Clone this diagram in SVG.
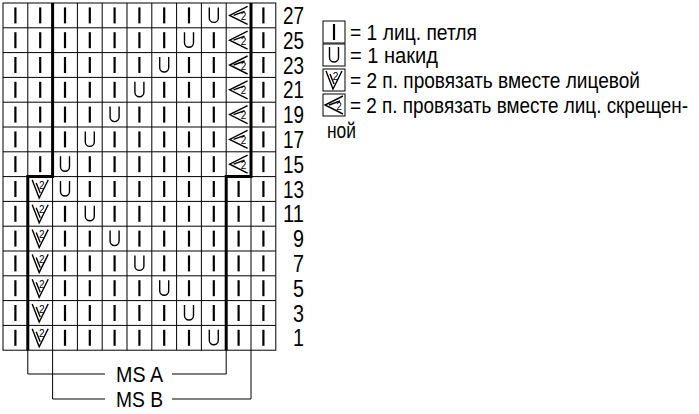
<svg xmlns="http://www.w3.org/2000/svg" width="699" height="414" viewBox="0 0 699 414">
<style>
.g{stroke:#000;stroke-width:1;fill:none}
.t{stroke:#000;stroke-width:3;fill:none}
.k{stroke:#000;stroke-width:2.2}
.s{stroke:#000;stroke-width:1.4;fill:none}
text{font-family:"Liberation Sans",Arial,sans-serif;fill:#000}
.n{font-size:23px}
.two{font-size:10px;text-anchor:middle;stroke:none;fill:#000}
.lg{font-size:22px}
</style>
<defs>
<g id="I"><line class="k" x1="0" y1="-8" x2="0" y2="8"/></g>
<g id="U"><path class="s" d="M-4.5,-8 V2.5 A4.5,4.5 0 0 0 4.5,2.5 V-8" stroke-width="1.7"/></g>
<g id="V"><path class="s" d="M-8,-9 L-1,9 L8,-9 M-4,-6 L0,4"/><text class="two" x="1.5" y="-0.5">2</text></g>
<g id="L"><path class="s" d="M9,-9 L-9,0 L9,9 M6,-4 L-5,0"/><text class="two" x="5" y="4.5">2</text></g>
</defs>
<g id="grid">
<rect class="g" x="3" y="3" width="272.8" height="347.2"/>
<path class="g" d="M27.8,3V350.2M52.6,3V350.2M77.4,3V350.2M102.2,3V350.2M127,3V350.2M151.8,3V350.2M176.6,3V350.2M201.4,3V350.2M226.2,3V350.2M251,3V350.2
M3,27.8H275.8M3,52.6H275.8M3,77.4H275.8M3,102.2H275.8M3,127H275.8M3,151.8H275.8M3,176.6H275.8M3,201.4H275.8M3,226.2H275.8M3,251H275.8M3,275.8H275.8M3,300.6H275.8M3,325.4H275.8"/>
</g>
<g id="cells">
<use href="#I" x="15.4" y="15.4"/><use href="#I" x="40.2" y="15.4"/><use href="#I" x="65" y="15.4"/><use href="#I" x="89.8" y="15.4"/><use href="#I" x="114.6" y="15.4"/><use href="#I" x="139.4" y="15.4"/><use href="#I" x="164.2" y="15.4"/><use href="#I" x="189" y="15.4"/><use href="#U" x="213.8" y="15.4"/><use href="#L" x="238.6" y="15.4"/><use href="#I" x="263.4" y="15.4"/>
<use href="#I" x="15.4" y="40.2"/><use href="#I" x="40.2" y="40.2"/><use href="#I" x="65" y="40.2"/><use href="#I" x="89.8" y="40.2"/><use href="#I" x="114.6" y="40.2"/><use href="#I" x="139.4" y="40.2"/><use href="#I" x="164.2" y="40.2"/><use href="#U" x="189" y="40.2"/><use href="#I" x="213.8" y="40.2"/><use href="#L" x="238.6" y="40.2"/><use href="#I" x="263.4" y="40.2"/>
<use href="#I" x="15.4" y="65"/><use href="#I" x="40.2" y="65"/><use href="#I" x="65" y="65"/><use href="#I" x="89.8" y="65"/><use href="#I" x="114.6" y="65"/><use href="#I" x="139.4" y="65"/><use href="#U" x="164.2" y="65"/><use href="#I" x="189" y="65"/><use href="#I" x="213.8" y="65"/><use href="#L" x="238.6" y="65"/><use href="#I" x="263.4" y="65"/>
<use href="#I" x="15.4" y="89.8"/><use href="#I" x="40.2" y="89.8"/><use href="#I" x="65" y="89.8"/><use href="#I" x="89.8" y="89.8"/><use href="#I" x="114.6" y="89.8"/><use href="#U" x="139.4" y="89.8"/><use href="#I" x="164.2" y="89.8"/><use href="#I" x="189" y="89.8"/><use href="#I" x="213.8" y="89.8"/><use href="#L" x="238.6" y="89.8"/><use href="#I" x="263.4" y="89.8"/>
<use href="#I" x="15.4" y="114.6"/><use href="#I" x="40.2" y="114.6"/><use href="#I" x="65" y="114.6"/><use href="#I" x="89.8" y="114.6"/><use href="#U" x="114.6" y="114.6"/><use href="#I" x="139.4" y="114.6"/><use href="#I" x="164.2" y="114.6"/><use href="#I" x="189" y="114.6"/><use href="#I" x="213.8" y="114.6"/><use href="#L" x="238.6" y="114.6"/><use href="#I" x="263.4" y="114.6"/>
<use href="#I" x="15.4" y="139.4"/><use href="#I" x="40.2" y="139.4"/><use href="#I" x="65" y="139.4"/><use href="#U" x="89.8" y="139.4"/><use href="#I" x="114.6" y="139.4"/><use href="#I" x="139.4" y="139.4"/><use href="#I" x="164.2" y="139.4"/><use href="#I" x="189" y="139.4"/><use href="#I" x="213.8" y="139.4"/><use href="#L" x="238.6" y="139.4"/><use href="#I" x="263.4" y="139.4"/>
<use href="#I" x="15.4" y="164.2"/><use href="#I" x="40.2" y="164.2"/><use href="#U" x="65" y="164.2"/><use href="#I" x="89.8" y="164.2"/><use href="#I" x="114.6" y="164.2"/><use href="#I" x="139.4" y="164.2"/><use href="#I" x="164.2" y="164.2"/><use href="#I" x="189" y="164.2"/><use href="#I" x="213.8" y="164.2"/><use href="#L" x="238.6" y="164.2"/><use href="#I" x="263.4" y="164.2"/>
<use href="#I" x="15.4" y="189"/><use href="#V" x="40.2" y="189"/><use href="#U" x="65" y="189"/><use href="#I" x="89.8" y="189"/><use href="#I" x="114.6" y="189"/><use href="#I" x="139.4" y="189"/><use href="#I" x="164.2" y="189"/><use href="#I" x="189" y="189"/><use href="#I" x="213.8" y="189"/><use href="#I" x="238.6" y="189"/><use href="#I" x="263.4" y="189"/>
<use href="#I" x="15.4" y="213.8"/><use href="#V" x="40.2" y="213.8"/><use href="#I" x="65" y="213.8"/><use href="#U" x="89.8" y="213.8"/><use href="#I" x="114.6" y="213.8"/><use href="#I" x="139.4" y="213.8"/><use href="#I" x="164.2" y="213.8"/><use href="#I" x="189" y="213.8"/><use href="#I" x="213.8" y="213.8"/><use href="#I" x="238.6" y="213.8"/><use href="#I" x="263.4" y="213.8"/>
<use href="#I" x="15.4" y="238.6"/><use href="#V" x="40.2" y="238.6"/><use href="#I" x="65" y="238.6"/><use href="#I" x="89.8" y="238.6"/><use href="#U" x="114.6" y="238.6"/><use href="#I" x="139.4" y="238.6"/><use href="#I" x="164.2" y="238.6"/><use href="#I" x="189" y="238.6"/><use href="#I" x="213.8" y="238.6"/><use href="#I" x="238.6" y="238.6"/><use href="#I" x="263.4" y="238.6"/>
<use href="#I" x="15.4" y="263.4"/><use href="#V" x="40.2" y="263.4"/><use href="#I" x="65" y="263.4"/><use href="#I" x="89.8" y="263.4"/><use href="#I" x="114.6" y="263.4"/><use href="#U" x="139.4" y="263.4"/><use href="#I" x="164.2" y="263.4"/><use href="#I" x="189" y="263.4"/><use href="#I" x="213.8" y="263.4"/><use href="#I" x="238.6" y="263.4"/><use href="#I" x="263.4" y="263.4"/>
<use href="#I" x="15.4" y="288.2"/><use href="#V" x="40.2" y="288.2"/><use href="#I" x="65" y="288.2"/><use href="#I" x="89.8" y="288.2"/><use href="#I" x="114.6" y="288.2"/><use href="#I" x="139.4" y="288.2"/><use href="#U" x="164.2" y="288.2"/><use href="#I" x="189" y="288.2"/><use href="#I" x="213.8" y="288.2"/><use href="#I" x="238.6" y="288.2"/><use href="#I" x="263.4" y="288.2"/>
<use href="#I" x="15.4" y="313"/><use href="#V" x="40.2" y="313"/><use href="#I" x="65" y="313"/><use href="#I" x="89.8" y="313"/><use href="#I" x="114.6" y="313"/><use href="#I" x="139.4" y="313"/><use href="#I" x="164.2" y="313"/><use href="#U" x="189" y="313"/><use href="#I" x="213.8" y="313"/><use href="#I" x="238.6" y="313"/><use href="#I" x="263.4" y="313"/>
<use href="#I" x="15.4" y="337.8"/><use href="#V" x="40.2" y="337.8"/><use href="#I" x="65" y="337.8"/><use href="#I" x="89.8" y="337.8"/><use href="#I" x="114.6" y="337.8"/><use href="#I" x="139.4" y="337.8"/><use href="#I" x="164.2" y="337.8"/><use href="#I" x="189" y="337.8"/><use href="#U" x="213.8" y="337.8"/><use href="#I" x="238.6" y="337.8"/><use href="#I" x="263.4" y="337.8"/>
</g>
<g id="outline">
<path class="t" d="M52.6,3V176.6H27.8V350.2"/>
<path class="t" d="M251,3V176.6H226.2V350.2"/>
</g>
<g id="rownumbers">
<text class="n" x="283" y="24" textLength="21" lengthAdjust="spacingAndGlyphs">27</text><text class="n" x="283" y="49" textLength="21" lengthAdjust="spacingAndGlyphs">25</text><text class="n" x="283" y="74" textLength="21" lengthAdjust="spacingAndGlyphs">23</text><text class="n" x="283" y="98" textLength="21" lengthAdjust="spacingAndGlyphs">21</text><text class="n" x="283" y="123" textLength="21" lengthAdjust="spacingAndGlyphs">19</text><text class="n" x="283" y="148" textLength="21" lengthAdjust="spacingAndGlyphs">17</text><text class="n" x="283" y="173" textLength="21" lengthAdjust="spacingAndGlyphs">15</text><text class="n" x="283" y="198" textLength="21" lengthAdjust="spacingAndGlyphs">13</text><text class="n" x="283" y="222" textLength="21" lengthAdjust="spacingAndGlyphs">11</text><text class="n" x="293" y="247" textLength="11" lengthAdjust="spacingAndGlyphs">9</text><text class="n" x="293" y="272" textLength="11" lengthAdjust="spacingAndGlyphs">7</text><text class="n" x="293" y="297" textLength="11" lengthAdjust="spacingAndGlyphs">5</text><text class="n" x="293" y="322" textLength="11" lengthAdjust="spacingAndGlyphs">3</text><text class="n" x="293" y="346" textLength="11" lengthAdjust="spacingAndGlyphs">1</text>
</g>
<g id="connectors">
<path class="g" d="M27.8,350V374H105M172,374H226.2V350"/>
<path class="g" d="M52.6,350V399H105M172,399H251V350"/>
</g>
<g id="ms">
<text class="lg" x="116" y="382" textLength="47" lengthAdjust="spacingAndGlyphs">MS A</text>
<text class="lg" x="116" y="407" textLength="47" lengthAdjust="spacingAndGlyphs">MS B</text>
</g>
<g id="legend">
<rect class="g" x="323" y="21" width="22" height="22"/><use href="#I" x="334" y="32"/>
<rect class="g" x="323" y="44" width="22" height="22"/><use href="#U" x="334" y="55"/>
<rect class="g" x="323" y="69" width="22" height="22"/><use href="#V" x="334" y="80"/>
<rect class="g" x="323" y="94" width="22" height="22"/><use href="#L" x="334" y="105"/>
<text class="lg" x="350" y="40" textLength="127" lengthAdjust="spacingAndGlyphs">= 1 лиц. петля</text>
<text class="lg" x="350" y="63" textLength="88" lengthAdjust="spacingAndGlyphs">= 1 накид</text>
<text class="lg" x="350" y="88" textLength="290" lengthAdjust="spacingAndGlyphs">= 2 п. провязать вместе лицевой</text>
<text class="lg" x="350" y="113" textLength="338" lengthAdjust="spacingAndGlyphs">= 2 п. провязать вместе лиц. скрещен-</text>
<text class="lg" x="327" y="138" textLength="29" lengthAdjust="spacingAndGlyphs">ной</text>
</g>
</svg>
